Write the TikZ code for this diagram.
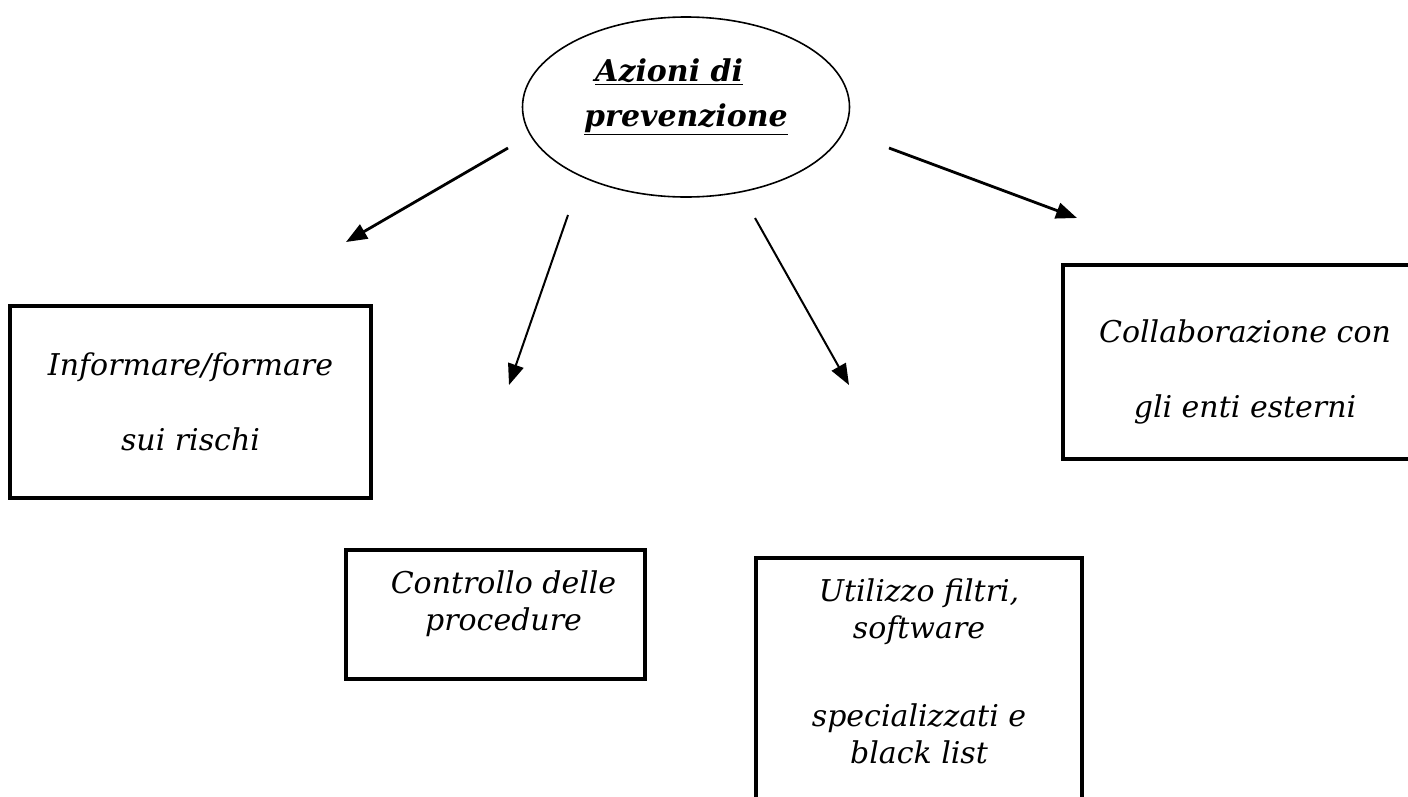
\documentclass[tikz,border=0pt]{standalone}
\usepackage{fontspec}
\setmainfont{DejaVu Serif}
\usetikzlibrary{arrows.meta,shapes.geometric}
\begin{document}
\begin{tikzpicture}[x=1pt, y=-1pt,
    freccia/.style={line width=2pt, -{Triangle[length=21pt, width=16pt]}},
    riquadro/.style={draw, line width=3.5pt, align=center, inner sep=0pt,
      font=\fontsize{30}{37}\selectfont\itshape}]
  \useasboundingbox (0, 0) rectangle (1408, 796);
  \fill [white] (0, 0) rectangle (1408, 796);
  \clip (0, 0) rectangle (1408, 796);

  \node [ellipse, draw, line width=1.6pt, minimum width=327pt, minimum height=180pt,
    align=left, text depth=28pt, font=\fontsize{30}{45}\selectfont\bfseries\itshape]
    (azioni) at (686, 107) {\hspace*{11pt}\underline{Azioni di}\\\underline{prevenzione}};

  \node [riquadro, minimum width=361pt, minimum height=192pt] (informare) at (190.5, 402)
    {Informare/formare\\[38pt]sui rischi};
  \node [riquadro, minimum width=364pt, minimum height=194pt, text height=118pt] (collaborazione) at (1245, 362)
    {Collaborazione con\\[38pt]gli enti esterni};
  \node [riquadro, minimum width=299pt, minimum height=129pt, text depth=28pt] (controllo) at (495.5, 614.5)
    {\hspace*{16pt}Controllo delle\\\hspace*{16pt}procedure};
  \node [riquadro, anchor=north, minimum width=326pt, inner ysep=21pt, text depth=200pt]
    (utilizzo) at (919, 556) {Utilizzo filtri,\\software\\[51pt]specializzati e\\black list};

  \coordinate (sa) at (508, 148);
  \coordinate (ta) at (346, 242);
  \coordinate (sb) at (568, 215);
  \coordinate (tb) at (509, 385);
  \coordinate (sc) at (755, 218);
  \coordinate (tc) at (849, 385);
  \coordinate (sd) at (889, 148);
  \coordinate (td) at (1077, 218);
  \draw [freccia, line width=2.8pt] (sa) -- (ta);
  \draw [freccia] (sb) -- (tb);
  \draw [freccia] (sc) -- (tc);
  \draw [freccia, line width=2.8pt] (sd) -- (td);
\end{tikzpicture}
\end{document}
